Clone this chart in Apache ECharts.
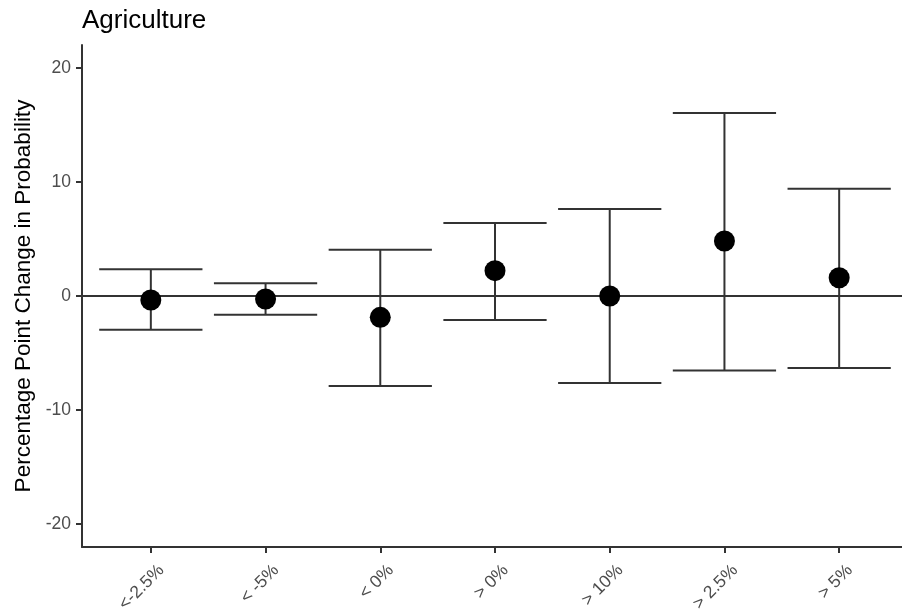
<!DOCTYPE html>
<html>
<head>
<meta charset="utf-8">
<script src="https://cdn.jsdelivr.net/npm/echarts@6/dist/echarts.min.js"></script>
<style>
html,body{margin:0;padding:0;background:#fff;overflow:hidden;width:902px;height:615px;}
#chart{width:910px;height:615px;}
</style>
</head>
<body>
<div id="chart"></div>
<script>
// Data
var categories = ['<-2.5%', '< -5%', '< 0%', '> 0%', '> 10%', '> 2.5%', '> 5%'];
var estimates  = [-0.35, -0.26, -1.87, 2.22, 0.00, 4.82, 1.60];
var lowerCI    = [-2.96, -1.64, -7.89, -2.11, -7.63, -6.52, -6.30];
var upperCI    = [ 2.34,  1.11,  4.06,  6.40,  7.62, 16.03,  9.39];
var yTicks     = [-20, -10, 0, 10, 20];
var title      = 'Agriculture';
var yTitle     = 'Percentage Point Change in Probability';

var catIdx = categories.map(function (c, i) { return i; });
var pointData = estimates.map(function (v, i) { return [i, v]; });
var barData = catIdx.map(function (i) { return [i, lowerCI[i], upperCI[i]]; });

var lineCol = '#333';
var chart = echarts.init(document.getElementById('chart'), null, {renderer: 'canvas'});
chart.setOption({
  animation: false,
  backgroundColor: '#fff',
  title: {
    text: title,
    left: 77,
    top: 3,
    textStyle: {fontFamily: 'Liberation Sans, Arial, sans-serif', fontSize: 26, fontWeight: 'normal', color: '#000'}
  },
  grid: {left: 82, top: 45, width: 826, height: 502, containLabel: false, outerBoundsMode: 'none'},
  xAxis: {
    type: 'value',
    min: -0.6,
    max: 6.6,
    splitLine: {show: false},
    axisLine: {show: true, onZero: false, lineStyle: {color: lineCol, width: 2}},
    axisTick: {show: true, customValues: catIdx, length: 6, lineStyle: {color: lineCol, width: 2}},
    axisLabel: {
      customValues: catIdx,
      rotate: 45,
      margin: 10,
      verticalAlign: 'top',
      lineHeight: 30,
      fontFamily: 'Liberation Sans, Arial, sans-serif',
      fontSize: 17.5,
      color: '#4d4d4d',
      formatter: function (v) { return categories[Math.round(v)]; }
    }
  },
  yAxis: {
    type: 'value',
    min: -22,
    max: 22,
    name: yTitle,
    nameLocation: 'middle',
    nameRotate: 90,
    nameGap: 47,
    nameTextStyle: {fontFamily: 'Liberation Sans, Arial, sans-serif', fontSize: 22.5, color: '#000'},
    splitLine: {show: false},
    axisLine: {show: true, onZero: false, lineStyle: {color: lineCol, width: 2}},
    axisTick: {show: true, customValues: yTicks, length: 6, lineStyle: {color: lineCol, width: 2}},
    axisLabel: {
      customValues: yTicks,
      margin: 11,
      fontFamily: 'Liberation Sans, Arial, sans-serif',
      fontSize: 17.5,
      color: '#4d4d4d'
    }
  },
  series: [
    {
      type: 'custom',
      z: 2,
      data: barData,
      renderItem: function (params, api) {
        var x = api.value(0);
        var lo = api.coord([x, api.value(1)]);
        var hi = api.coord([x, api.value(2)]);
        var hw = api.size([0.45, 0])[0];
        var st = {stroke: lineCol, lineWidth: 2};
        return {
          type: 'group',
          children: [
            {type: 'line', shape: {x1: lo[0], y1: lo[1], x2: hi[0], y2: hi[1]}, style: st},
            {type: 'line', shape: {x1: lo[0] - hw, y1: lo[1], x2: lo[0] + hw, y2: lo[1]}, style: st},
            {type: 'line', shape: {x1: hi[0] - hw, y1: hi[1], x2: hi[0] + hw, y2: hi[1]}, style: st}
          ]
        };
      },
      markLine: {
        silent: true,
        symbol: ['none', 'none'],
        label: {show: false},
        lineStyle: {color: lineCol, width: 2, type: 'solid'},
        data: [{yAxis: 0}]
      }
    },
    {
      type: 'scatter',
      z: 5,
      data: pointData,
      symbol: 'circle',
      symbolSize: 21,
      itemStyle: {color: '#000', opacity: 1}
    }
  ]
});
</script>
</body>
</html>
